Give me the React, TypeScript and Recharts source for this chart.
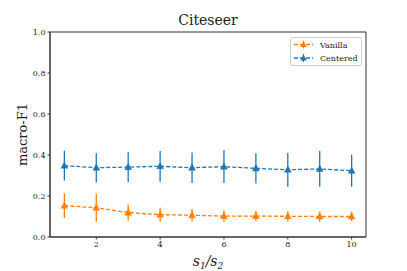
import React from 'react';
import { LineChart, Line, XAxis, YAxis, ErrorBar, ReferenceArea } from 'recharts';

const ratios = [1, 2, 3, 4, 5, 6, 7, 8, 9, 10];
const vanillaMean = [0.153, 0.143, 0.119, 0.109, 0.106, 0.102, 0.102, 0.101, 0.100, 0.100];
const vanillaErr = [0.060, 0.068, 0.040, 0.034, 0.030, 0.028, 0.025, 0.025, 0.025, 0.023];
const centeredMean = [0.348, 0.338, 0.341, 0.345, 0.338, 0.343, 0.335, 0.328, 0.332, 0.323];
const centeredErr = [0.073, 0.072, 0.073, 0.075, 0.074, 0.080, 0.074, 0.083, 0.087, 0.078];
const xTicks = [2, 4, 6, 8, 10];
const yTicks = [0, 0.2, 0.4, 0.6, 0.8, 1.0];
const seriesNames = ['Vanilla', 'Centered'];

const ORANGE = '#ff7f0e';
const BLUE = '#1f77b4';
const FONT = 'DejaVu Serif';

const data = ratios.map((r, i) => ({
  r,
  vanilla: vanillaMean[i],
  vanillaErr: vanillaErr[i],
  centered: centeredMean[i],
  centeredErr: centeredErr[i],
}));

const Tri = (color: string) => (props: any) => {
  const { cx, cy, index } = props;
  if (cx == null || cy == null) return <g key={index} />;
  const h = 3.4;
  return (
    <path
      key={index}
      d={`M${cx},${cy - h * 1.1} L${cx + h},${cy + h * 0.75} L${cx - h},${cy + h * 0.75} Z`}
      fill={color}
      stroke={color}
      strokeWidth={0.5}
    />
  );
};

const LegendBox = () => {
  const colors = [ORANGE, BLUE];
  return (
    <g transform="translate(290,37)">
      <rect x={0.5} y={0.5} width={71} height={28} rx={2} fill="#fff" stroke="#ccc" strokeWidth={1} />
      {seriesNames.map((label, i) => {
        const y = 7.5 + i * 13.5;
        const c = colors[i];
        return (
          <g key={label}>
            <line x1={4} x2={23} y1={y} y2={y} stroke={c} strokeWidth={1.3} strokeDasharray="4 2" />
            <path d={`M13.5,${y - 3.6} L16.7,${y + 2.5} L10.3,${y + 2.5} Z`} fill={c} />
            <line x1={13.5} x2={13.5} y1={y - 4} y2={y + 4} stroke={c} strokeWidth={1.2} />
            <text x={30} y={y + 3} fontSize={8} fontFamily={FONT} fill="#222">
              {label}
            </text>
          </g>
        );
      })}
    </g>
  );
};

export default function App() {
  return (
    <div style={{ position: 'absolute', left: 0, top: 0, width: 407, height: 271, background: '#fff' }}>
      <LineChart
        width={407}
        height={271}
        data={data}
        margin={{ top: 32, right: 41, bottom: 14, left: 10 }}
      >
        <XAxis
          dataKey="r"
          type="number"
          domain={[0.55, 10.45]}
          ticks={xTicks}
          allowDataOverflow
          height={20}
          tickSize={2.5}
          tickLine={{ stroke: '#333' }}
          axisLine={{ stroke: '#333' }}
          tick={{ fontSize: 8, fontFamily: FONT, fill: '#222' }}
        />
        <YAxis
          type="number"
          domain={[0, 1]}
          ticks={yTicks}
          width={40}
          tickSize={2.5}
          tickLine={{ stroke: '#333' }}
          axisLine={{ stroke: '#333' }}
          tickFormatter={(v: number) => v.toFixed(1)}
          tick={{ fontSize: 8, fontFamily: FONT, fill: '#222' }}
        />
        <ReferenceArea x1={0.55} x2={10.45} y1={0} y2={1} fill="none" stroke="#333" strokeWidth={1} ifOverflow="visible" />
        <Line
          dataKey="vanilla"
          stroke={ORANGE}
          strokeWidth={1.3}
          strokeDasharray="4 2"
          isAnimationActive={false}
          dot={Tri(ORANGE)}
          activeDot={false}
        >
          <ErrorBar dataKey="vanillaErr" direction="y" width={0} stroke={ORANGE} strokeWidth={1.3} />
        </Line>
        <Line
          dataKey="centered"
          stroke={BLUE}
          strokeWidth={1.3}
          strokeDasharray="4 2"
          isAnimationActive={false}
          dot={Tri(BLUE)}
          activeDot={false}
        >
          <ErrorBar dataKey="centeredErr" direction="y" width={0} stroke={BLUE} strokeWidth={1.3} />
        </Line>
        <LegendBox />
        <text x={208} y={25} textAnchor="middle" fontSize={14} fontFamily={FONT} fill="#222">
          Citeseer
        </text>
        <text
          x={22}
          y={134.5}
          textAnchor="middle"
          dominantBaseline="central"
          fontSize={13}
          fontFamily={FONT}
          fill="#222"
          transform="rotate(-90 22 134.5)"
        >
          macro-F1
        </text>
        <text x={208} y={266} textAnchor="middle" fontSize={14} fontFamily={FONT} fill="#222" fontStyle="italic">
          s<tspan fontSize={9} dy={3}>1</tspan>
          <tspan dy={-3}>/s</tspan>
          <tspan fontSize={9} dy={3}>2</tspan>
        </text>
      </LineChart>
    </div>
  );
}
